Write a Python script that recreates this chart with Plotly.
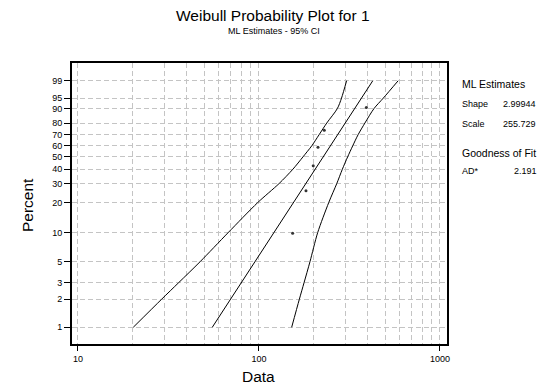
import numpy as np
import plotly.graph_objects as go

# ---- data ----
pct_levels = [1, 2, 3, 5, 10, 20, 30, 40, 50, 60, 70, 80, 90, 95, 99]
ci_lower_x = [20.2, 29.0, 36.0, 47.3, 67.5, 98.5, 129, 154, 175, 196, 215, 237, 271, 286, 305]
ci_upper_x = [151.6, 167.2, 177.5, 191.4, 211, 243, 269, 289, 309, 330, 353, 385, 432, 487, 588]

fit_pct = [1, 99]
fit_x = [55.2, 425.6]

obs_x = [153.5, 181.9, 199.5, 211.9, 229.6, 391.8]
obs_pct = [9.9, 25.9, 42.6, 58.5, 73.9, 90.6]

y_tick_pct = [1, 2, 3, 5, 10, 20, 30, 40, 50, 60, 70, 80, 90, 95, 99]
x_major = [10, 100, 1000]
x_minor = [20, 30, 40, 50, 60, 70, 80, 90, 200, 300, 400, 500, 600, 700, 800, 900]

shape_est = "2.99944"
scale_est = "255.729"
ad_stat = "2.191"


def wscale(p):
    p = np.asarray(p, dtype=float) / 100.0
    return np.log(-np.log(1.0 - p))


FONT = "Arial, Liberation Sans, sans-serif"
GRID = "#c4c4c4"
DASH = "5px,3px"

fig = go.Figure()
fig.add_trace(go.Scatter(x=ci_lower_x, y=wscale(pct_levels), mode="lines",
                         line=dict(color="black", width=1, shape="spline", smoothing=0.8),
                         showlegend=False))
fig.add_trace(go.Scatter(x=fit_x, y=wscale(fit_pct), mode="lines",
                         line=dict(color="black", width=1), showlegend=False))
fig.add_trace(go.Scatter(x=ci_upper_x, y=wscale(pct_levels), mode="lines",
                         line=dict(color="black", width=1, shape="spline", smoothing=0.8),
                         showlegend=False))
fig.add_trace(go.Scatter(x=obs_x, y=wscale(obs_pct), mode="markers",
                         marker=dict(color="#333333", size=3), showlegend=False))

fig.update_layout(
    width=548, height=385,
    margin=dict(l=72, r=101, t=63, b=41),
    paper_bgcolor="white", plot_bgcolor="white",
    font=dict(family=FONT, color="black", size=9),
    xaxis=dict(
        type="log", range=[0.967, 3.039],
        tickvals=x_major, ticktext=[str(v) for v in x_major],
        ticks="outside", ticklen=5, tickcolor="black", tickwidth=1,
        showgrid=True, gridcolor=GRID, griddash=DASH, gridwidth=1,
        minor=dict(tickvals=x_minor, showgrid=True, gridcolor=GRID,
                   griddash=DASH, gridwidth=1, ticks=""),
        showline=True, linecolor="black", linewidth=2, mirror=True,
        zeroline=False, tickfont=dict(size=9),
    ),
    yaxis=dict(
        range=[-5.015, 1.967],
        tickvals=list(wscale(y_tick_pct)), ticktext=[str(v) for v in y_tick_pct],
        ticks="outside", ticklen=6, tickcolor="black", tickwidth=1,
        showgrid=True, gridcolor=GRID, griddash=DASH, gridwidth=1,
        showline=True, linecolor="black", linewidth=2, mirror=True,
        zeroline=False, tickfont=dict(size=9),
    ),
)

W, H = 375.0, 281.0
L, T = 72.0, 63.0


def px(x):
    return (x - L) / W


def py(y):
    return (T + H - y) / H


anns = [
    dict(text="Weibull Probability Plot for 1", x=px(273), y=py(15), size=15.5, xanchor="center"),
    dict(text="ML Estimates - 95% CI", x=px(274), y=py(31.5), size=9, xanchor="center"),
    dict(text="Data", x=px(258), y=py(376), size=15.5, xanchor="center"),
    dict(text="ML Estimates", x=px(460), y=py(84), size=10.5, xanchor="left"),
    dict(text="Shape", x=px(460), y=py(104), size=9, xanchor="left"),
    dict(text=shape_est, x=px(538), y=py(104), size=9, xanchor="right"),
    dict(text="Scale", x=px(460), y=py(124), size=9, xanchor="left"),
    dict(text=scale_est, x=px(538), y=py(124), size=9, xanchor="right"),
    dict(text="Goodness of Fit", x=px(460), y=py(153), size=10.5, xanchor="left"),
    dict(text="AD*", x=px(460), y=py(171), size=9, xanchor="left"),
    dict(text=ad_stat, x=px(539), y=py(171), size=9, xanchor="right"),
]
for a in anns:
    fig.add_annotation(text=a["text"], x=a["x"], y=a["y"], xref="paper", yref="paper",
                       xanchor=a["xanchor"], yanchor="middle", showarrow=False,
                       font=dict(family=FONT, size=a["size"], color="black"))

fig.add_annotation(text="Percent", x=px(28), y=py(205), xref="paper", yref="paper",
                   xanchor="center", yanchor="middle", textangle=-90, showarrow=False,
                   font=dict(family=FONT, size=15.5, color="black"))

fig.write_html("out.html")
